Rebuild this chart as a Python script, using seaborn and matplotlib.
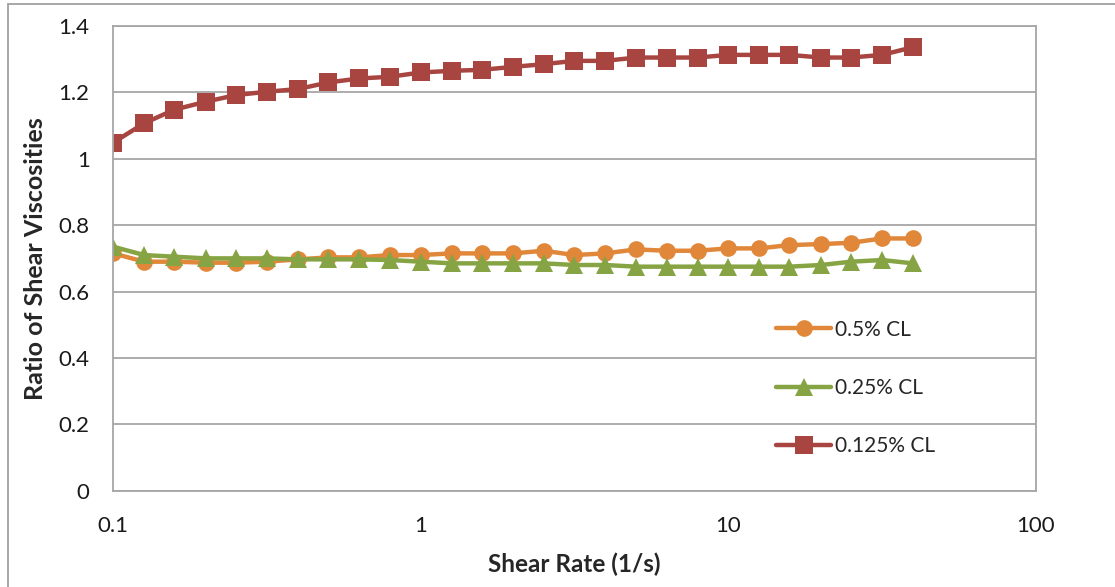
import matplotlib
matplotlib.use('Agg')
import matplotlib.pyplot as plt
from matplotlib.patches import Rectangle
import pandas as pd
import seaborn as sns

# shear rate values (1/s)
shear_rate = [0.1, 0.126, 0.158, 0.2, 0.251, 0.316, 0.398, 0.501, 0.631, 0.794,
              1.0, 1.26, 1.58, 2.0, 2.51, 3.16, 3.98, 5.01, 6.31, 7.94,
              10.0, 12.6, 15.8, 20.0, 25.1, 31.6, 39.8]

cl_05 = [0.715, 0.69, 0.69, 0.687, 0.687, 0.69, 0.697, 0.703, 0.703, 0.71,
         0.71, 0.715, 0.715, 0.715, 0.723, 0.71, 0.715, 0.727, 0.723, 0.723,
         0.73, 0.73, 0.74, 0.743, 0.747, 0.76, 0.76]

cl_025 = [0.735, 0.71, 0.705, 0.70, 0.70, 0.70, 0.697, 0.697, 0.697, 0.695,
          0.69, 0.685, 0.685, 0.685, 0.685, 0.68, 0.68, 0.675, 0.675, 0.675,
          0.675, 0.675, 0.675, 0.68, 0.69, 0.695, 0.685]

cl_0125 = [1.049, 1.107, 1.148, 1.172, 1.192, 1.202, 1.21, 1.23, 1.242, 1.247,
           1.26, 1.265, 1.268, 1.277, 1.285, 1.295, 1.295, 1.305, 1.305, 1.305,
           1.313, 1.313, 1.313, 1.305, 1.305, 1.313, 1.336]

series_names = ['0.5% CL', '0.25% CL', '0.125% CL']
series_values = [cl_05, cl_025, cl_0125]
colors = ['#E0873A', '#86A443', '#A84541']
markers = ['o', '^', 's']
marker_sizes = [12, 13, 13]

y_ticks = [0, 0.2, 0.4, 0.6, 0.8, 1, 1.2, 1.4]
y_tick_labels = ['0', '0.2', '0.4', '0.6', '0.8', '1', '1.2', '1.4']
x_ticks = [0.1, 1, 10, 100]
x_tick_labels = ['0.1', '1', '10', '100']

# long-form table for seaborn
rows = []
for name, vals in zip(series_names, series_values):
    for x, y in zip(shear_rate, vals):
        rows.append({'Shear Rate': x, 'Ratio': y, 'Series': name})
df = pd.DataFrame(rows)

sns.set_style('white')
plt.rcParams['font.family'] = ['Lato', 'DejaVu Sans']

fig = plt.figure(figsize=(11.15, 5.87), dpi=100)
ax = fig.add_axes([0.1016, 0.164, 0.929 - 0.1016, 0.9557 - 0.164])

grid_gray = '#A6A6A6'

for name, color, mk, ms in zip(series_names, colors, markers, marker_sizes):
    sub = df[df['Series'] == name]
    sns.lineplot(data=sub, x='Shear Rate', y='Ratio', ax=ax, color=color,
                 marker=mk, markersize=ms, markeredgewidth=0, linewidth=3.2,
                 label=name, estimator=None)

ax.set_xscale('log')
ax.set_xlim(0.1, 100)
ax.set_ylim(0, 1.4)
ax.set_xticks(x_ticks)
ax.set_xticklabels(x_tick_labels)
ax.set_yticks(y_ticks)
ax.set_yticklabels(y_tick_labels)
ax.minorticks_off()
ax.tick_params(axis='both', length=0, labelsize=16, colors='#1a1a1a')
ax.tick_params(axis='y', pad=17)
ax.tick_params(axis='x', pad=18)

ax.yaxis.grid(True, color=grid_gray, linewidth=1.3)
ax.set_axisbelow(True)
for s in ax.spines.values():
    s.set_color(grid_gray)
    s.set_linewidth(1.3)

ax.set_xlabel('Shear Rate (1/s)', fontsize=17.5, fontweight='bold')
ax.set_ylabel('Ratio of Shear Viscosities', fontsize=18, fontweight='bold')
ax.xaxis.set_label_coords(0.5, -0.132)
ax.yaxis.set_label_coords(-0.0715, 0.5)

leg = ax.legend(loc='center left', bbox_to_anchor=(0.698, 0.221), frameon=False,
                fontsize=15, labelspacing=1.84, handlelength=2.65,
                handletextpad=0.2)

# outer chart border
fig.patches.append(Rectangle((8 / 1115, -0.05), 1.2, 1.05 - 4 / 587,
                             transform=fig.transFigure, fill=False,
                             edgecolor='#A0A0A0', linewidth=1.3))

fig.savefig('out.png', dpi=100)
plt.close(fig)
